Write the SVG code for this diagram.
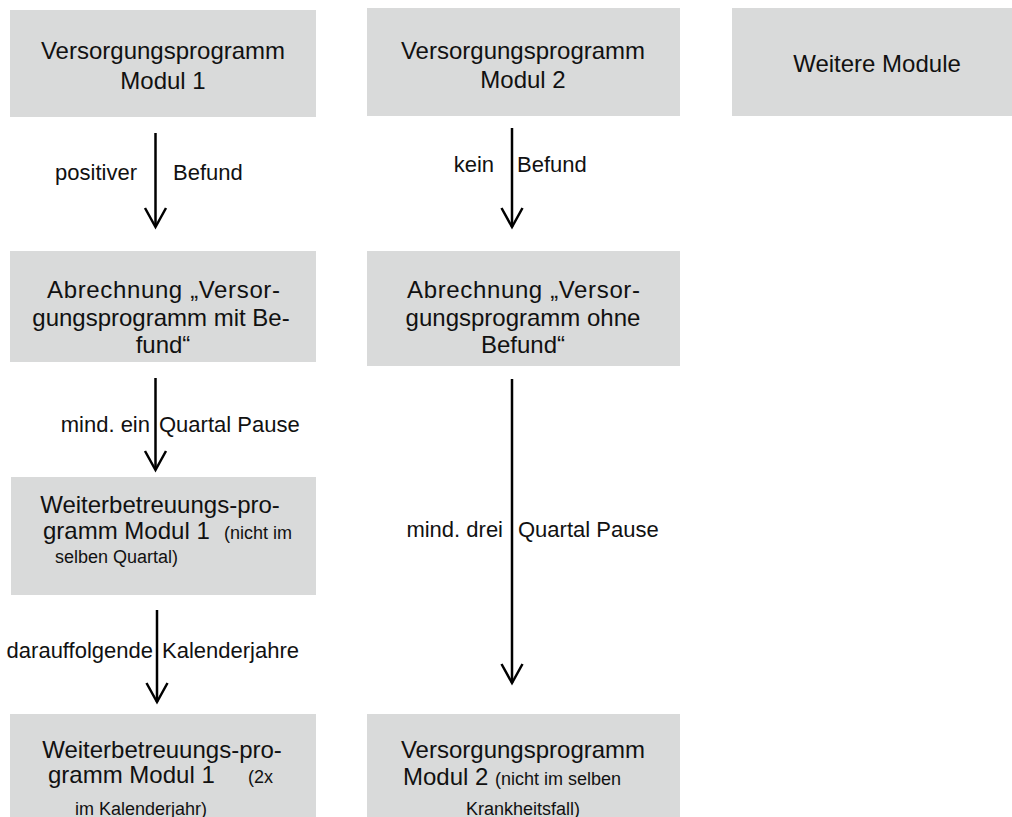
<svg xmlns="http://www.w3.org/2000/svg" width="1012" height="817" viewBox="0 0 1012 817">
<defs>
<style>
.box{fill:#d9dada;}
.t{font-family:"Liberation Sans",Arial,sans-serif;font-size:24px;fill:#111;text-anchor:middle;}
.l{text-anchor:start;}
.s{font-family:"Liberation Sans",Arial,sans-serif;font-size:18px;fill:#111;}
.lbl{font-family:"Liberation Sans",Arial,sans-serif;font-size:22px;fill:#111;}
.edge{stroke:#000;stroke-width:2.5;fill:none;}
</style>
<marker id="chev" markerUnits="userSpaceOnUse" markerWidth="30" markerHeight="30" viewBox="-25 -15 30 30" refX="0" refY="0" orient="auto" overflow="visible">
<path d="M -19 -10.5 L 0 0 L -19 10.5" fill="none" stroke="#000" stroke-width="2.5"/>
</marker>
</defs>
<rect width="1012" height="817" fill="#fff"/>
<g id="n1"><rect class="box" x="10" y="10" width="306" height="107"/>
<text class="t" x="163" y="59">Versorgungsprogramm</text><text class="t" x="163" y="89">Modul 1</text></g>
<g id="n2"><rect class="box" x="367" y="8" width="313" height="108"/>
<text class="t" x="523" y="59">Versorgungsprogramm</text><text class="t" x="523" y="88">Modul 2</text></g>
<g id="n3"><rect class="box" x="732" y="8" width="290" height="108"/>
<text class="t" x="877" y="72">Weitere Module</text></g>
<g id="n4"><rect class="box" x="10" y="251" width="306" height="111"/>
<text class="t l" x="47" y="298" textLength="233" lengthAdjust="spacing">Abrechnung „Versor-</text><text class="t" x="161" y="326">gungsprogramm mit Be-</text><text class="t" x="163" y="353">fund“</text></g>
<g id="n5"><rect class="box" x="367" y="251" width="313" height="115"/>
<text class="t l" x="407" y="298" textLength="233" lengthAdjust="spacing">Abrechnung „Versor-</text><text class="t" x="523" y="326">gungsprogramm ohne</text><text class="t" x="523" y="353">Befund“</text></g>
<g id="n6"><rect class="box" x="11" y="477" width="305" height="118"/>
<text class="t" x="160" y="513">Weiterbetreuungs-pro-</text><text class="t l" x="43" y="539">gramm Modul 1</text><text class="s" x="224" y="539">(nicht im</text><text class="s" x="55" y="563">selben Quartal)</text></g>
<g id="n7"><rect class="box" x="10" y="714" width="306" height="103"/>
<text class="t" x="162" y="758">Weiterbetreuungs-pro-</text><text class="t l" x="48" y="783">gramm Modul 1</text><text class="s" x="248" y="783">(2x</text><text class="s" x="75" y="815" font-size="19">im Kalenderjahr)</text></g>
<g id="n8"><rect class="box" x="367" y="714" width="313" height="103"/>
<text class="t" x="523" y="758">Versorgungsprogramm</text><text class="t l" x="403" y="785">Modul 2</text><text class="s" x="495" y="785">(nicht im selben</text><text class="s" x="466" y="815">Krankheitsfall)</text></g>
<g id="edges">
<line class="edge" x1="155.5" y1="133" x2="155.5" y2="227" marker-end="url(#chev)"/>
<text class="lbl" x="137" y="180" text-anchor="end">positiver</text><text class="lbl" x="173" y="180">Befund</text>
<line class="edge" x1="512" y1="128" x2="512" y2="227" marker-end="url(#chev)"/>
<text class="lbl" x="494" y="172" text-anchor="end">kein</text><text class="lbl" x="517" y="172">Befund</text>
<line class="edge" x1="155.5" y1="378" x2="155.5" y2="470" marker-end="url(#chev)"/>
<text class="lbl" x="150" y="432" text-anchor="end">mind. ein</text><text class="lbl" x="159" y="432">Quartal Pause</text>
<line class="edge" x1="157" y1="610" x2="157" y2="702" marker-end="url(#chev)"/>
<text class="lbl" x="153" y="658" text-anchor="end">darauffolgende</text><text class="lbl" x="162" y="658">Kalenderjahre</text>
<line class="edge" x1="512" y1="379" x2="512" y2="683" marker-end="url(#chev)"/>
<text class="lbl" x="503" y="537" text-anchor="end">mind. drei</text><text class="lbl" x="518" y="537">Quartal Pause</text>
</g>
</svg>
